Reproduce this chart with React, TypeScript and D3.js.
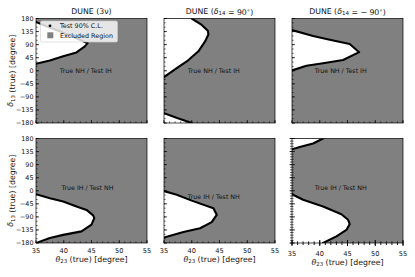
import React from 'react';
import * as d3 from 'd3';

const W = 415;
const H = 277;

const xDomain: [number, number] = [35, 55];
const yDomain: [number, number] = [-180, 180];
const xTicks = [35, 40, 45, 50, 55];
const yTicks = [180, 135, 90, 45, 0, -45, -90, -135, -180];
const xMinor = d3.range(35, 55.01, 1);
const yMinor = d3.range(-180, 180.01, 15);
const yMinorDense = d3.range(-180, 180.01, 9);

// contours (theta23, delta13)
const c1 = [[35, 24], [37.5, 35], [39.9, 50], [42.3, 63], [43.8, 84], [44.3, 95], [42.3, 112], [39.5, 134], [37, 152], [35, 168]];
const c2a = [[40, 180], [41.8, 158], [42.9, 138], [43, 125], [42.4, 101], [41.2, 67], [39.1, 32], [37.3, 9], [35, -22]];
const c2b = [[35, -146], [37.5, -164], [40, -180]];
const c3 = [[35, 140], [38.8, 120], [41.8, 107], [45.4, 92], [47.1, 64], [44.2, 37], [40.6, 26], [37.6, 17], [35, 1]];
const c4 = [[35, -12], [37.5, -26], [39.9, -37], [42.3, -54], [44.1, -66], [45.3, -85], [45.5, -94], [45, -117], [43.2, -140], [39.9, -152], [37.5, -163], [35, -180]];
const c5 = [[35, -1], [37.3, -14], [40, -34], [43.9, -60], [44.5, -83], [43.6, -108], [41.5, -129], [38.5, -142], [35, -161]];
const c6a = [[40.6, 180], [38.8, 163], [36.4, 151], [35, 143]];
const c6b = [[35, -12], [37, -31], [40.6, -54], [43.9, -81], [45.1, -100], [45.4, -115], [44.8, -135], [43, -157], [40.6, -180]];

type Region = { pts: number[][]; close: 'none' | 'tl' | 'bl' };

const colX = [36, 164, 292];
const rowY = [18.5, 138.5];
const PW = 111;
const PH = 104.5;

const FONT = 'DejaVu Sans, sans-serif';
const GREY = '#808080';

const Delta = ({ sub }: { sub: string }) => (
  <>
    <tspan fontStyle="italic">δ</tspan>
    <tspan fontSize="0.7em" dy="1.7">{sub}</tspan>
    <tspan dy="-1.7"></tspan>
  </>
);

const titles = [
  <>DUNE (3ν)</>,
  <>DUNE (<Delta sub="14" /> = 90<tspan fontSize="0.7em" dy="-3">∘</tspan><tspan dy="3">)</tspan></>,
  <>DUNE (<Delta sub="14" /> = − 90<tspan fontSize="0.7em" dy="-3">∘</tspan><tspan dy="3">)</tspan></>,
];

const panels = [
  { row: 0, col: 0, regions: [{ pts: c1, close: 'none' }] as Region[], text: 'True NH / Test IH', tx: 39.3, ty: 0, dense: false },
  { row: 0, col: 1, regions: [{ pts: c2a, close: 'tl' }, { pts: c2b, close: 'bl' }] as Region[], text: 'True NH / Test IH', tx: 39.3, ty: 0, dense: false },
  { row: 0, col: 2, regions: [{ pts: c3, close: 'none' }] as Region[], text: 'True NH / Test IH', tx: 39.1, ty: 0, dense: false },
  { row: 1, col: 0, regions: [{ pts: c4, close: 'none' }] as Region[], text: 'True IH / Test NH', tx: 39.6, ty: 9, dense: false },
  { row: 1, col: 1, regions: [{ pts: c5, close: 'none' }] as Region[], text: 'True IH / Test NH', tx: 39.3, ty: -22, dense: false },
  { row: 1, col: 2, regions: [{ pts: c6a, close: 'tl' }, { pts: c6b, close: 'bl' }] as Region[], text: 'True IH / Test NH', tx: 39.1, ty: 10, dense: true },
];

function Panel({ p, i }: { p: typeof panels[number]; i: number }) {
  const x0 = colX[p.col];
  const y0 = rowY[p.row];
  const x = d3.scaleLinear().domain(xDomain).range([x0, x0 + PW]);
  const y = d3.scaleLinear().domain(yDomain).range([y0 + PH, y0]);
  const line = d3.line<number[]>().x(d => x(d[0])).y(d => y(d[1]));
  const clipId = `clip${i}`;
  const polys = p.regions.map(r => {
    const pts = r.pts.slice();
    if (r.close === 'tl') pts.push([xDomain[0], yDomain[1]]);
    if (r.close === 'bl') pts.push([xDomain[0], yDomain[0]]);
    return line(pts) + 'Z';
  });
  const dense = p.dense;
  const tickIn = dense ? -2 : 0;
  const bottomRow = p.row === 1;
  const showYLabels = p.col === 0;
  const minorY = dense ? yMinorDense : yMinor;
  const labelShift = dense ? 3 : 0;
  return (
    <g>
      <defs>
        <clipPath id={clipId}>
          <rect x={x0} y={y0} width={PW} height={PH} />
        </clipPath>
      </defs>
      <rect x={x0} y={y0} width={PW} height={PH} fill={GREY} />
      <g clipPath={`url(#${clipId})`}>
        {polys.map((d, k) => <path key={k} d={d} fill="#fff" />)}
        {p.regions.map((r, k) => (
          <path key={'l' + k} d={line(r.pts) || ''} fill="none" stroke="#000" strokeWidth={2.1} strokeLinejoin="round" strokeLinecap="round" />
        ))}
      </g>
      <text x={x(p.tx)} y={y(p.ty)} dy="0.35em" fontFamily={FONT} fontSize={6.3} fill="#111">{p.text}</text>
      {minorY.map(v => (
        <line key={'ym' + v} x1={x0 + tickIn} x2={x0 + 1.6} y1={y(v)} y2={y(v)} stroke="#000" strokeWidth={0.6} />
      ))}
      {yTicks.map(v => (
        <line key={'yM' + v} x1={x0 + (dense ? -2.5 : 0)} x2={x0 + 3} y1={y(v)} y2={y(v)} stroke="#000" strokeWidth={0.7} />
      ))}
      {showYLabels && yTicks.map(v => (
        <text key={'yl' + v} x={x0 - 2.5} y={y(v)} dy="0.35em" textAnchor="end" fontFamily={FONT} fontSize={6.4} fill="#111">
          {v < 0 ? '−' + Math.abs(v) : String(v)}
        </text>
      ))}
      {xMinor.map(v => (
        <line key={'xm' + v} x1={x(v)} x2={x(v)} y1={y0 + PH - (dense ? -2 : 0)} y2={y0 + PH - 1.6} stroke="#000" strokeWidth={dense ? 0.9 : 0.6} />
      ))}
      {xTicks.map(v => (
        <line key={'xM' + v} x1={x(v)} x2={x(v)} y1={y0 + PH + (dense ? 3 : 0)} y2={y0 + PH - 3} stroke="#000" strokeWidth={dense ? 1 : 0.7} />
      ))}
      {bottomRow && xTicks.map(v => (
        <text key={'xl' + v} x={x(v)} y={y0 + PH + 9.5 + labelShift} textAnchor="middle" fontFamily={FONT} fontSize={6.6} fill="#111">{v}</text>
      ))}
      {bottomRow && (
        <text x={x0 + PW / 2} y={y0 + PH + 19 + labelShift - 0.5} textAnchor="middle" fontFamily={FONT} fontSize={7.8} fill="#111">
          <tspan fontStyle="italic">θ</tspan><tspan fontSize="0.7em" dy="1.7">23</tspan><tspan dy="-1.7"> (true) [degree]</tspan>
        </text>
      )}
      {p.row === 0 && (
        <text x={x0 + PW / 2} y={y0 - 5} textAnchor="middle" fontFamily={FONT} fontSize={7.8} fill="#111">{titles[p.col]}</text>
      )}
      {showYLabels && (
        <text transform={`translate(12.8,${y0 + PH / 2}) rotate(-90)`} textAnchor="middle" fontFamily={FONT} fontSize={7.8} fill="#111">
          <Delta sub="13" /> (true) [degree]
        </text>
      )}
      <rect x={x0} y={y0} width={PW} height={PH} fill="none" stroke="#000" strokeWidth={0.7} />
    </g>
  );
}

function Legend() {
  return (
    <g fontFamily={FONT} fontSize={6.4} fill="#111">
      <rect x={40.5} y={21} width={77} height={21} rx={1.5} fill="#fff" fillOpacity={0.8} stroke="#ccc" strokeWidth={0.6} />
      <circle cx={50} cy={25.8} r={1.4} fill="#000" />
      <text x={60} y={25.8} dy="0.35em">Test 90% C.L.</text>
      <rect x={47.3} y={32.3} width={6} height={6} fill={GREY} />
      <text x={60} y={35.3} dy="0.35em">Excluded Region</text>
    </g>
  );
}

export default function App() {
  return (
    <svg width={W} height={H} style={{ position: 'absolute', left: 0, top: 0, background: '#fff' }}>
      <rect width={W} height={H} fill="#fff" />
      {panels.map((p, i) => <Panel key={i} p={p} i={i} />)}
      <Legend />
    </svg>
  );
}
